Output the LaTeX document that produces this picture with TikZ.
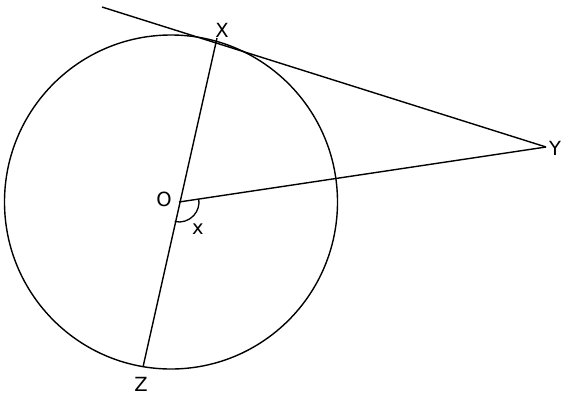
\documentclass[tikz,border=0pt]{standalone}
\usepackage{fontspec}
\setmainfont{DejaVu Sans}
\usetikzlibrary{angles}
\begin{document}
\begin{tikzpicture}[x=1pt,y=-1pt,line width=1.4pt,
  lbl/.style={inner sep=0pt,font=\fontsize{19.5}{22}\selectfont}]
\useasboundingbox (0,0) rectangle (573,400);
\coordinate (C) at (171,202);
\coordinate (O) at (179,202);
\coordinate (X) at (217,38);
\coordinate (Z) at (143,367);
\coordinate (Y) at (546,147);
\coordinate (T) at (102,7);
\draw (C) circle[x radius=166.5, y radius=167];
\draw (X)--(Z);
\draw (O)--(Y);
\draw (T)--(Y);
\draw pic[draw,line width=1.3pt,angle radius=20pt] {angle=Z--O--Y};
\node[lbl] (lX) at (222,30) {X};
\node[lbl] (lY) at (555,148) {Y};
\node[lbl] (lZ) at (141,384) {Z};
\node[lbl] (lO) at (164,199) {O};
\node[lbl] (lx) at (198,229) {x};
\end{tikzpicture}
\end{document}
